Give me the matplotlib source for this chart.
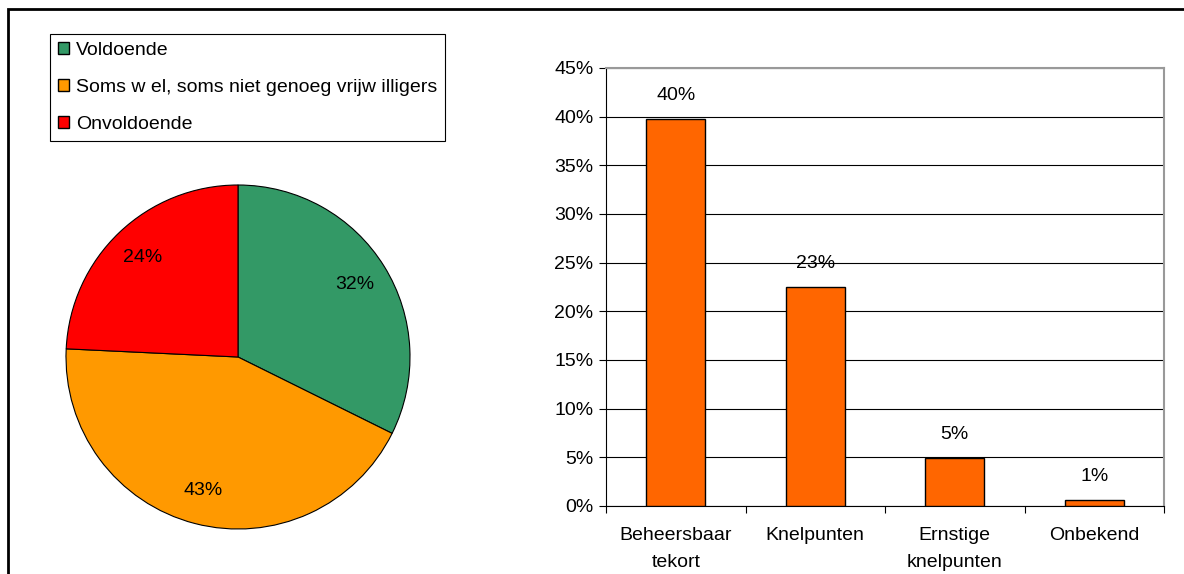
import matplotlib.pyplot as plt
from matplotlib.patches import Rectangle, Patch

plt.rcParams['font.family'] = ['Liberation Sans', 'DejaVu Sans']

# pie data
pie_labels = ["Voldoende", "Soms w el, soms niet genoeg vrijw illigers", "Onvoldoende"]
pie_values = [32, 43, 24]
pie_colors = ["#339966", "#FF9900", "#FF0000"]

# bar data
bar_categories = ["Beheersbaar\ntekort", "Knelpunten", "Ernstige\nknelpunten", "Onbekend"]
bar_values = [39.8, 22.5, 4.9, 0.6]
bar_text = ["40%", "23%", "5%", "1%"]
y_ticks = [0, 5, 10, 15, 20, 25, 30, 35, 40, 45]

FS = 14
W, H = 1184, 574
fig = plt.figure(figsize=(W / 100, H / 100), dpi=100)

# outer frame
fig.patches.append(Rectangle((8 / W, -0.1), 1.2, 1 - 9 / H + 0.1, transform=fig.transFigure,
                             fill=False, edgecolor="black", linewidth=2, clip_on=False))

# pie
ax1 = fig.add_axes([66 / W, 1 - 529 / H, 344 / W, 344 / H])
wedges, texts, autotexts = ax1.pie(pie_values, colors=pie_colors, startangle=90, counterclock=False,
                                   autopct="%1.0f%%", pctdistance=0.8,
                                   wedgeprops=dict(edgecolor="black", linewidth=0.8))
for t in autotexts:
    t.set_fontsize(FS)
ax1.set_xlim(-1, 1)
ax1.set_ylim(-1, 1)
ax1.set_aspect("equal")
for w in wedges:
    w.set_clip_on(False)

handles = [Patch(facecolor=c, edgecolor="black", linewidth=1) for c in pie_colors]
leg = fig.legend(handles, pie_labels, loc="upper left", bbox_to_anchor=(50 / W, 1 - 34 / H),
                 borderaxespad=0, fontsize=FS, fancybox=False, framealpha=1,
                 handlelength=0.6, handleheight=0.6, handletextpad=0.35,
                 labelspacing=1.03, borderpad=0.4)
leg.get_frame().set_edgecolor("black")
leg.get_frame().set_linewidth(0.8)

# bars
ax2 = fig.add_axes([606 / W, 1 - 506 / H, 558 / W, 438 / H])
x = range(len(bar_categories))
bars = ax2.bar(x, bar_values, width=0.42, color="#FF6600", edgecolor="black", linewidth=1, zorder=3)
for xi, v, s in zip(x, bar_values, bar_text):
    ax2.annotate(s, (xi, v), xytext=(0, 17), textcoords="offset points",
                 ha="center", va="center", fontsize=FS)

ax2.set_xlim(-0.5, len(bar_categories) - 0.5)
ax2.set_ylim(0, 45)
ax2.set_yticks(y_ticks)
ax2.set_yticklabels([f"{t}%" for t in y_ticks], fontsize=FS)
ax2.yaxis.grid(True, color="black", linewidth=0.8, zorder=0)
ax2.set_axisbelow(True)
ax2.set_xticks(list(x))
ax2.set_xticklabels(bar_categories, fontsize=FS, linespacing=1.75)
ax2.tick_params(axis="x", length=0, pad=15)
ax2.set_xticks([i - 0.5 for i in range(len(bar_categories) + 1)], minor=True)
ax2.tick_params(axis="x", which="minor", length=5, width=0.8)
ax2.tick_params(axis="y", length=5, width=0.8, pad=4)
ax2.spines["top"].set_color("#999999")
ax2.spines["right"].set_color("#999999")
ax2.spines["top"].set_linewidth(1.5)
ax2.spines["right"].set_linewidth(1.5)

fig.savefig("out.png", dpi=100)
